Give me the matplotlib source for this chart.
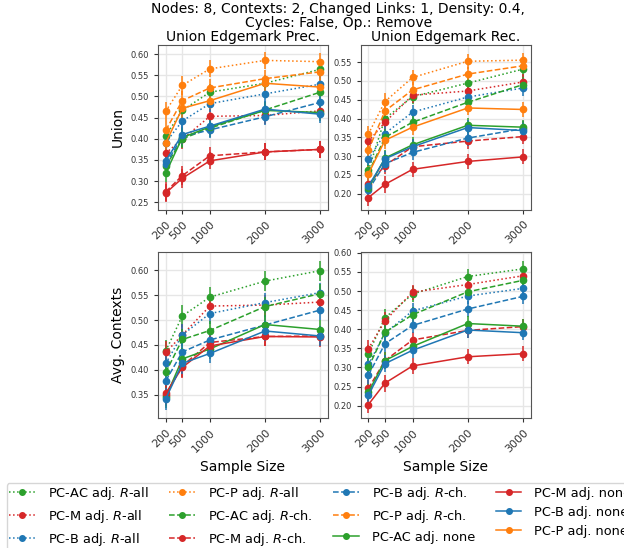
import numpy as np
import matplotlib
matplotlib.use("Agg")
import matplotlib.pyplot as plt
from matplotlib.ticker import MultipleLocator

# sample sizes
sample_sizes = [200, 500, 1000, 2000, 3000]

methods = ["PC-AC", "PC-M", "PC-B", "PC-P"]
colors = {"PC-AC": "#2ca02c", "PC-M": "#d62728", "PC-B": "#1f77b4", "PC-P": "#ff7f0e"}
adjust = ["$R$-all", "$R$-ch.", "none"]
styles = {"$R$-all": ":", "$R$-ch.": "--", "none": "-"}

# Union Edgemark Prec.
union_prec = {
    ("PC-AC", "$R$-all"): [0.407, 0.467, 0.510, 0.531, 0.564],
    ("PC-M", "$R$-all"): [0.366, 0.399, 0.453, 0.455, 0.466],
    ("PC-B", "$R$-all"): [0.391, 0.442, 0.483, 0.506, 0.529],
    ("PC-P", "$R$-all"): [0.465, 0.526, 0.565, 0.585, 0.582],
    ("PC-AC", "$R$-ch."): [0.335, 0.400, 0.425, 0.468, 0.510],
    ("PC-M", "$R$-ch."): [0.275, 0.313, 0.360, 0.369, 0.375],
    ("PC-B", "$R$-ch."): [0.340, 0.405, 0.421, 0.452, 0.486],
    ("PC-P", "$R$-ch."): [0.420, 0.490, 0.520, 0.542, 0.558],
    ("PC-AC", "none"): [0.319, 0.403, 0.428, 0.467, 0.462],
    ("PC-M", "none"): [0.272, 0.307, 0.348, 0.369, 0.375],
    ("PC-B", "none"): [0.348, 0.410, 0.430, 0.470, 0.458],
    ("PC-P", "none"): [0.390, 0.472, 0.490, 0.531, 0.522],
}

# Union Edgemark Rec.
union_rec = {
    ("PC-AC", "$R$-all"): [0.262, 0.400, 0.458, 0.494, 0.531],
    ("PC-M", "$R$-all"): [0.339, 0.390, 0.462, 0.473, 0.497],
    ("PC-B", "$R$-all"): [0.292, 0.360, 0.417, 0.457, 0.481],
    ("PC-P", "$R$-all"): [0.359, 0.445, 0.509, 0.552, 0.555],
    ("PC-AC", "$R$-ch."): [0.255, 0.350, 0.390, 0.443, 0.490],
    ("PC-M", "$R$-ch."): [0.225, 0.275, 0.325, 0.340, 0.352],
    ("PC-B", "$R$-ch."): [0.210, 0.280, 0.310, 0.348, 0.373],
    ("PC-P", "$R$-ch."): [0.316, 0.420, 0.476, 0.518, 0.540],
    ("PC-AC", "none"): [0.215, 0.295, 0.330, 0.382, 0.377],
    ("PC-M", "none"): [0.190, 0.225, 0.265, 0.286, 0.298],
    ("PC-B", "none"): [0.220, 0.293, 0.325, 0.376, 0.368],
    ("PC-P", "none"): [0.253, 0.342, 0.377, 0.428, 0.424],
}

# Avg. Contexts Prec.
ctx_prec = {
    ("PC-AC", "$R$-all"): [0.438, 0.508, 0.546, 0.578, 0.599],
    ("PC-M", "$R$-all"): [0.435, 0.470, 0.528, 0.530, 0.536],
    ("PC-B", "$R$-all"): [0.413, 0.470, 0.513, 0.535, 0.555],
    ("PC-AC", "$R$-ch."): [0.395, 0.461, 0.479, 0.527, 0.553],
    ("PC-M", "$R$-ch."): [0.350, 0.408, 0.455, 0.467, 0.468],
    ("PC-B", "$R$-ch."): [0.378, 0.436, 0.460, 0.490, 0.520],
    ("PC-AC", "none"): [0.345, 0.422, 0.442, 0.491, 0.481],
    ("PC-M", "none"): [0.353, 0.405, 0.448, 0.467, 0.466],
    ("PC-B", "none"): [0.342, 0.413, 0.433, 0.478, 0.468],
}

# Avg. Contexts Rec.
ctx_rec = {
    ("PC-AC", "$R$-all"): [0.336, 0.430, 0.492, 0.538, 0.558],
    ("PC-M", "$R$-all"): [0.349, 0.422, 0.497, 0.517, 0.540],
    ("PC-B", "$R$-all"): [0.308, 0.390, 0.448, 0.487, 0.507],
    ("PC-AC", "$R$-ch."): [0.300, 0.392, 0.438, 0.498, 0.528],
    ("PC-M", "$R$-ch."): [0.245, 0.318, 0.372, 0.397, 0.407],
    ("PC-B", "$R$-ch."): [0.280, 0.362, 0.410, 0.453, 0.486],
    ("PC-AC", "none"): [0.235, 0.318, 0.355, 0.415, 0.408],
    ("PC-M", "none"): [0.203, 0.259, 0.304, 0.328, 0.336],
    ("PC-B", "none"): [0.228, 0.310, 0.345, 0.398, 0.391],
}

# rough error bar half-widths per sample size
errs = [0.022, 0.022, 0.02, 0.02, 0.02]

panels = [
    (union_prec, "Union Edgemark Prec.", "Union", None, (0.232, 0.622)),
    (union_rec, "Union Edgemark Rec.", None, None, (0.157, 0.596)),
    (ctx_prec, None, "Avg. Contexts", "Sample Size", (0.303, 0.637)),
    (ctx_rec, None, None, "Sample Size", (0.167, 0.603)),
]
positions = [
    [0.2532, 0.6168, 0.2724, 0.3016],
    [0.578, 0.6168, 0.2724, 0.3016],
    [0.2532, 0.2367, 0.2724, 0.304],
    [0.578, 0.2367, 0.2724, 0.304],
]

fig = plt.figure(figsize=(6.24, 5.48), dpi=100)
fig.suptitle("Nodes: 8, Contexts: 2, Changed Links: 1, Density: 0.4,\nCycles: False, Op.: Remove",
             fontsize=10, x=0.542, y=0.997, linespacing=1.05)

for (data, title, ylabel, xlabel, ylim), pos in zip(panels, positions):
    ax = fig.add_axes(pos)
    ax.grid(True, color="#e6e6e6", linewidth=1.0)
    ax.set_axisbelow(True)
    for sp in ax.spines.values():
        sp.set_color("#555555")
    for adj in adjust:
        for m in methods:
            if (m, adj) not in data:
                continue
            ax.errorbar(sample_sizes, data[(m, adj)], yerr=errs, color=colors[m],
                        linestyle=styles[adj], marker="o", markersize=4.5, linewidth=1.1,
                        elinewidth=1.1)
    ax.set_xticks(sample_sizes)
    ax.set_xticklabels([str(s) for s in sample_sizes], rotation=45, ha="right",
                       rotation_mode="anchor", fontsize=8)
    ax.yaxis.set_major_locator(MultipleLocator(0.05))
    ax.tick_params(axis="y", labelsize=6, colors="#333333", length=3)
    ax.tick_params(axis="x", colors="#333333", length=3)
    ax.set_ylim(*ylim)
    if title:
        ax.set_title(title, fontsize=10, pad=3)
    if ylabel:
        ax.set_ylabel(ylabel, fontsize=10)
    if xlabel:
        ax.set_xlabel(xlabel, fontsize=10)

order = [(m, a) for a in adjust for m in methods]
leg_handles = []
leg_labels = []
for m, a in order:
    line, = plt.plot([], [], color=colors[m], linestyle=styles[a], marker="o",
                     markersize=4, linewidth=1.1)
    leg_handles.append(line)
    leg_labels.append(f"{m} adj. {a}")

fig.legend(leg_handles, leg_labels, ncol=4, loc="upper left",
           bbox_to_anchor=(0.011, 0.1186), borderaxespad=0, fontsize=9.3,
           frameon=True, labelspacing=0.45, columnspacing=1.6, handletextpad=1.0,
           borderpad=0.15)

fig.savefig("out.png", dpi=100)
